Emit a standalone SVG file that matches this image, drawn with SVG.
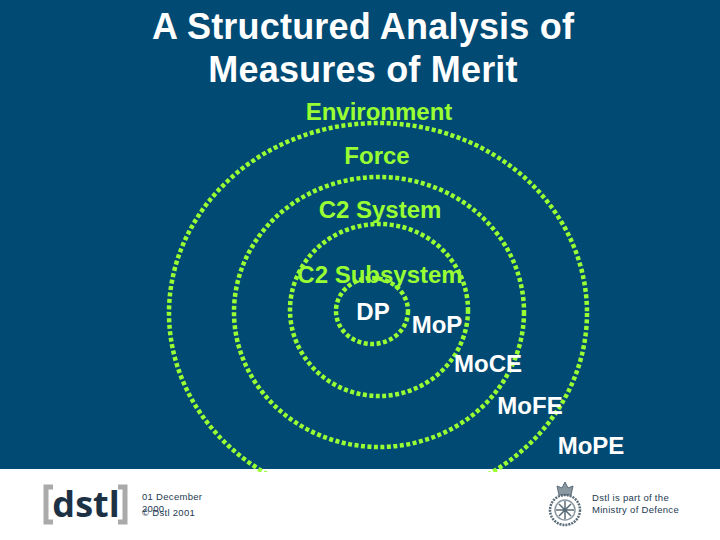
<svg xmlns="http://www.w3.org/2000/svg" width="720" height="540" viewBox="0 0 720 540">
<defs><clipPath id="c"><rect width="720" height="472"/></clipPath></defs>
<style>
.ring{fill:none;stroke:#99ff33;stroke-width:4.5;stroke-dasharray:4 2.5}
.t{font-family:"Liberation Sans",Arial,sans-serif}
.title{font-size:36px;font-weight:bold;fill:#fff;text-anchor:middle;letter-spacing:.2px}
.g{font-size:24px;font-weight:bold;fill:#99ff33;text-anchor:middle}
.w{font-size:24px;font-weight:bold;fill:#fff;text-anchor:middle}
.s{font-size:9.5px;fill:#1d3a52;letter-spacing:.3px}
</style>
<rect width="720" height="540" fill="#004a73"/>
<rect y="469" width="720" height="71" fill="#fff"/>
<g id="connectors"/>
<g clip-path="url(#c)">
<g id="ring-environment"><ellipse class="ring" cx="378" cy="313" rx="209" ry="190"/></g>
</g>
<g id="ring-force"><ellipse class="ring" cx="379" cy="312" rx="145" ry="135"/></g>
<g id="ring-c2"><ellipse class="ring" cx="379" cy="310" rx="89" ry="86"/></g>
<g id="ring-dp"><ellipse class="ring" cx="372" cy="311" rx="36" ry="33"/></g>
<g id="title"><text class="t title" x="363" y="39">A Structured Analysis of</text><text class="t title" x="363" y="82">Measures of Merit</text></g>
<g id="l1"><text class="t g" x="379" y="120">Environment</text></g>
<g id="l2"><text class="t g" x="377" y="164">Force</text></g>
<g id="l3"><text class="t g" x="380" y="218">C2 System</text></g>
<g id="l4"><text class="t g" x="380" y="283">C2 Subsystem</text></g>
<g id="l5"><text class="t w" x="373" y="320">DP</text></g>
<g id="l6"><text class="t w" x="437" y="333">MoP</text></g>
<g id="l7"><text class="t w" x="488" y="372">MoCE</text></g>
<g id="l8"><text class="t w" x="530" y="414">MoFE</text></g>
<g id="l9"><text class="t w" x="591" y="454">MoPE</text></g>
<g id="logo"><path d="M53 487H46V522H53M118 487H125V522H118" fill="none" stroke="#aaa" stroke-width="5"/><text x="86" y="517" text-anchor="middle" font-family="'Open Sans',sans-serif" font-size="36" font-weight="bold" fill="#1d3145">dstl</text></g>
<g id="date"><text class="t s" x="142" y="500">01 December</text><text class="t s" x="142" y="512">2000</text><text class="t s" x="142" y="516">© Dstl 2001</text></g>
<g id="crest" fill="none" stroke="#5a6b78"><path d="M559 495L557 486L562 488L565 482L568 488L573 486L571 495Z" fill="#8a98a2" stroke-width="1"/><circle cx="565" cy="510" r="15" stroke-width="2.5" stroke-dasharray="2 1"/><circle cx="565" cy="510" r="10" stroke="#8a98a2" stroke-width="1.5"/><path d="M556 510H574M565 501V519M559 504L571 516M571 504L559 516" stroke-width="1.5"/></g>
<g id="note"><text class="t s" x="592" y="501">Dstl is part of the</text><text class="t s" x="592" y="513">Ministry of Defence</text></g>
</svg>
